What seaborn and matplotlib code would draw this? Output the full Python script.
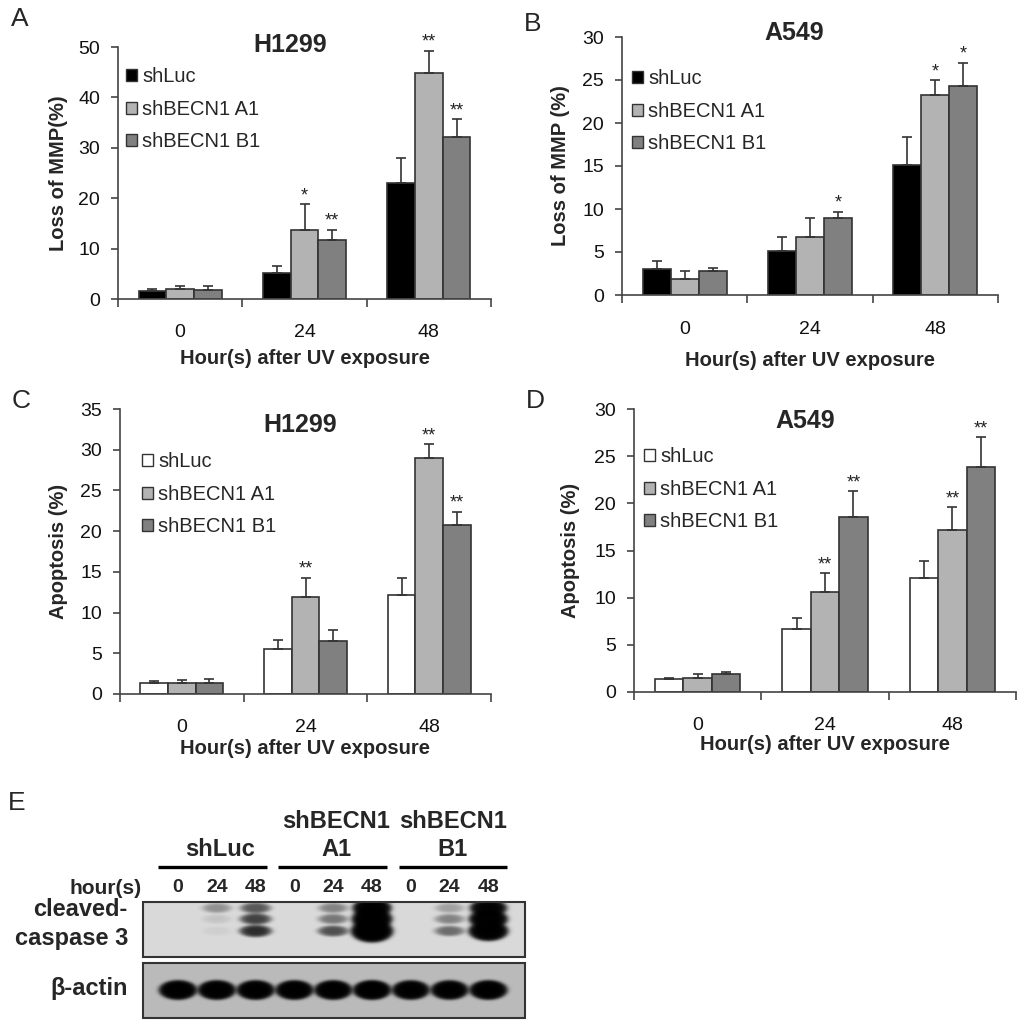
import numpy as np
import pandas as pd
import matplotlib
matplotlib.use('Agg')
import matplotlib.pyplot as plt
import seaborn as sns
from matplotlib.patches import Patch, Rectangle

hours = ['0', '24', '48']
groups = ['shLuc', 'shBECN1 A1', 'shBECN1 B1']

# rows = groups (shLuc, A1, B1), columns = hours
mmp_h1299_mean = [[1.5, 5.2, 23.1], [1.9, 13.7, 44.8], [1.7, 11.7, 32.2]]
mmp_h1299_err = [[0.5, 1.3, 4.9], [0.7, 5.1, 4.5], [0.8, 2.0, 3.5]]
mmp_h1299_sig = [['', '', ''], ['', '*', '**'], ['', '**', '**']]

mmp_a549_mean = [[3.0, 5.1, 15.1], [1.9, 6.7, 23.3], [2.8, 8.9, 24.35]]
mmp_a549_err = [[1.0, 1.6, 3.3], [0.85, 2.2, 1.7], [0.3, 0.8, 2.65]]
mmp_a549_sig = [['', '', ''], ['', '', '*'], ['', '*', '*']]

apo_h1299_mean = [[1.3, 5.5, 12.15], [1.4, 11.95, 29.0], [1.4, 6.55, 20.75]]
apo_h1299_err = [[0.3, 1.1, 2.1], [0.35, 2.35, 1.65], [0.4, 1.35, 1.65]]
apo_h1299_sig = [['', '', ''], ['', '**', '**'], ['', '', '**']]

apo_a549_mean = [[1.37, 6.7, 12.05], [1.5, 10.6, 17.2], [1.94, 18.5, 23.9]]
apo_a549_err = [[0.15, 1.1, 1.85], [0.4, 2.0, 2.4], [0.2, 2.8, 3.1]]
apo_a549_sig = [['', '', ''], ['', '**', '**'], ['', '**', '**']]

# western blot band strengths per lane (shLuc 0/24/48, A1 0/24/48, B1 0/24/48)
blot_groups = ['shLuc', 'shBECN1\nA1', 'shBECN1\nB1']
casp_upper = [0.0, 0.4, 0.9, 0.0, 0.5, 5.0, 0.0, 0.3, 4.0]
casp_middle = [0.0, 0.1, 1.2, 0.0, 0.6, 6.0, 0.0, 0.5, 5.0]
casp_lower = [0.0, 0.05, 1.6, 0.0, 1.0, 7.0, 0.0, 0.7, 5.5]
actin_band = [6.0, 6.0, 6.0, 6.0, 6.0, 6.5, 5.5, 5.5, 6.0]

sns.set_theme(style='white')
plt.rcParams['font.family'] = ['Liberation Sans', 'DejaVu Sans']

W, H = 1024, 1027
fig = plt.figure(figsize=(W / 100, H / 100), dpi=100)
AX_COL = '#444444'


def px_axes(x0, y0, x1, y1):
    return fig.add_axes([x0 / W, 1 - y1 / H, (x1 - x0) / W, (y1 - y0) / H])


def fig_text(x, y, s, **kw):
    fig.text(x / W, 1 - y / H, s, **kw)


def bar_panel(box, means, errs, sigs, colors, title, title_xy, ylabel, ylab_x,
              ymax, ystep, xlab_y, leg_xy, tick_pad):
    x0, y0, x1, y1 = box
    ax = px_axes(*box)
    df = pd.DataFrame({'hour': hours * 3,
                       'group': np.repeat(groups, 3),
                       'value': np.ravel(means)})
    sns.barplot(data=df, x='hour', y='value', hue='group', order=hours,
                hue_order=groups, palette=colors, width=0.67, saturation=1,
                edgecolor='#333333', linewidth=1.2, errorbar=None,
                legend=False, ax=ax)
    bar_sets = list(ax.containers)
    for i, cont in enumerate(bar_sets):
        for j, bar in enumerate(cont.patches):
            cx = bar.get_x() + bar.get_width() / 2
            top = bar.get_height()
            ax.errorbar(cx, top, yerr=[[0], [errs[i][j]]], fmt='none',
                        ecolor='#333333', elinewidth=1.2, capsize=3.6,
                        capthick=1.2, zorder=1)
            if sigs[i][j]:
                ax.annotate(sigs[i][j], (cx, top + errs[i][j]),
                            xytext=(0, 0), textcoords='offset points',
                            ha='center', va='bottom', fontsize=13,
                            color='#222222')
    ax.set_ylim(0, ymax)
    ax.set_xlim(-0.5, 2.5)
    ax.set_yticks(np.arange(0, ymax + 0.1, ystep))
    ax.set_xticks([-0.5, 0.5, 1.5, 2.5], minor=True)
    sns.despine(ax=ax)
    for side in ['left', 'bottom']:
        ax.spines[side].set_color(AX_COL)
        ax.spines[side].set_linewidth(1.2)
    ax.tick_params(axis='y', left=True, direction='out', length=5, width=1.2,
                   color=AX_COL, labelsize=14, pad=8, labelcolor='#111111')
    ax.tick_params(axis='x', which='major', bottom=False, length=0,
                   labelsize=14, pad=tick_pad, labelcolor='#111111')
    ax.tick_params(axis='x', which='minor', bottom=True, direction='out',
                   length=6, width=1.2, color=AX_COL)
    ax.set_xlabel('Hour(s) after UV exposure', fontsize=14.5, fontweight='bold')
    ax.set_ylabel(ylabel, fontsize=14.5, fontweight='bold')
    ax.xaxis.set_label_coords(0.5, (y1 - xlab_y) / (y1 - y0))
    ax.xaxis.label.set_verticalalignment('center')
    ax.yaxis.set_label_coords((ylab_x - x0) / (x1 - x0), 0.5)
    ax.yaxis.label.set_verticalalignment('center')
    fig_text(title_xy[0], title_xy[1], title, fontsize=18, fontweight='bold',
             ha='center', va='center')
    handles = [Patch(facecolor=c, edgecolor='#333333', linewidth=1.0) for c in colors]
    ax.legend(handles, groups, loc='upper left',
              bbox_to_anchor=(leg_xy[0] / W, 1 - leg_xy[1] / H),
              bbox_transform=fig.transFigure, frameon=False, fontsize=14.5,
              handlelength=0.55, handleheight=0.55, handletextpad=0.25,
              labelspacing=0.68, borderpad=0, borderaxespad=0)
    return ax


dark = ['black', '#b3b3b3', '#808080']
light = ['white', '#b3b3b3', '#808080']

bar_panel((118, 47, 491, 299), mmp_h1299_mean, mmp_h1299_err, mmp_h1299_sig,
          dark, 'H1299', (290, 45), 'Loss of MMP(%)', 58, 50, 10, 358,
          (126, 67), 18)
bar_panel((622, 37, 998, 295), mmp_a549_mean, mmp_a549_err, mmp_a549_sig,
          dark, 'A549', (794, 33), 'Loss of MMP (%)', 561, 30, 5, 360,
          (632, 69), 19)
bar_panel((120, 409, 491, 694), apo_h1299_mean, apo_h1299_err, apo_h1299_sig,
          light, 'H1299', (300, 425), 'Apoptosis (%)', 59, 35, 5, 748,
          (142, 452), 18)
bar_panel((634, 409, 1016, 692), apo_a549_mean, apo_a549_err, apo_a549_sig,
          light, 'A549', (805, 421), 'Apoptosis (%)', 571, 30, 5, 745,
          (644, 447), 18)

for letter, (lx, ly) in zip('ABCD', [(20, 19), (533, 24), (21, 401), (535, 401)]):
    fig_text(lx, ly, letter, fontsize=19, ha='center', va='center')

# panel E: western blot drawn in pixel coordinates
ax_e = px_axes(0, 780, W, H)
ax_e.axis('off')

lane_x = 178 + 38.8 * np.arange(9)


def blot_image(x0, x1, y0, y1, rows, bg, wx0, wy0, grow):
    xs = np.arange(x0, x1) + 0.5
    ys = np.arange(y0, y1) + 0.5
    X, Y = np.meshgrid(xs, ys)
    density = np.zeros(X.shape)
    for cy, vals in rows:
        for cx, v in zip(lane_x, vals):
            if v <= 0:
                continue
            wx = wx0 * (1 + 0.03 * v * grow)
            wy = wy0 * (1 + 0.15 * v * grow)
            r = ((X - cx) / wx) ** 2 + ((Y - cy) / wy) ** 2
            density += v * np.exp(-r ** 2)
    img = bg * np.exp(-density)
    ax_e.imshow(img, cmap='gray', vmin=0, vmax=1, extent=(x0, x1, y1, y0),
                aspect='auto', interpolation='bilinear')
    ax_e.add_patch(Rectangle((x0, y0), x1 - x0, y1 - y0, fill=False,
                             edgecolor='#333333', linewidth=1.5))


blot_image(143, 525, 902, 957,
           [(908, casp_upper), (919, casp_middle), (931, casp_lower)],
           0.85, 14, 4.5, 1)
blot_image(143, 525, 963, 1018, [(990, actin_band)], 0.73, 15.5, 8, 0)
ax_e.set_xlim(0, W)
ax_e.set_ylim(H, 780)

fig_text(17, 803, 'E', fontsize=19, ha='center', va='center')
for k, name in enumerate(blot_groups):
    for m, line in enumerate(reversed(name.split('\n'))):
        fig_text(lane_x[3 * k + 1] + 3, 850 - 29 * m, line, fontsize=17,
                 fontweight='bold', ha='center', va='center')
    ax_e.plot([lane_x[3 * k] - 20 + 4 * k, lane_x[3 * k + 2] + 11 + 4 * k],
              [867, 867], color='black', linewidth=2.4, solid_capstyle='butt')
    for i, h in enumerate(hours):
        fig_text(lane_x[3 * k + i], 888, h, fontsize=14, fontweight='bold',
                 ha='center', va='center')
fig_text(142, 888, 'hour(s)', fontsize=15, fontweight='bold', ha='right', va='center')
fig_text(128, 910, 'cleaved-', fontsize=17, fontweight='bold', ha='right', va='center')
fig_text(128, 938, 'caspase 3', fontsize=17, fontweight='bold', ha='right', va='center')
fig_text(128, 988, 'β-actin', fontsize=17, fontweight='bold', ha='right', va='center')

fig.savefig('out.png', dpi=100)
